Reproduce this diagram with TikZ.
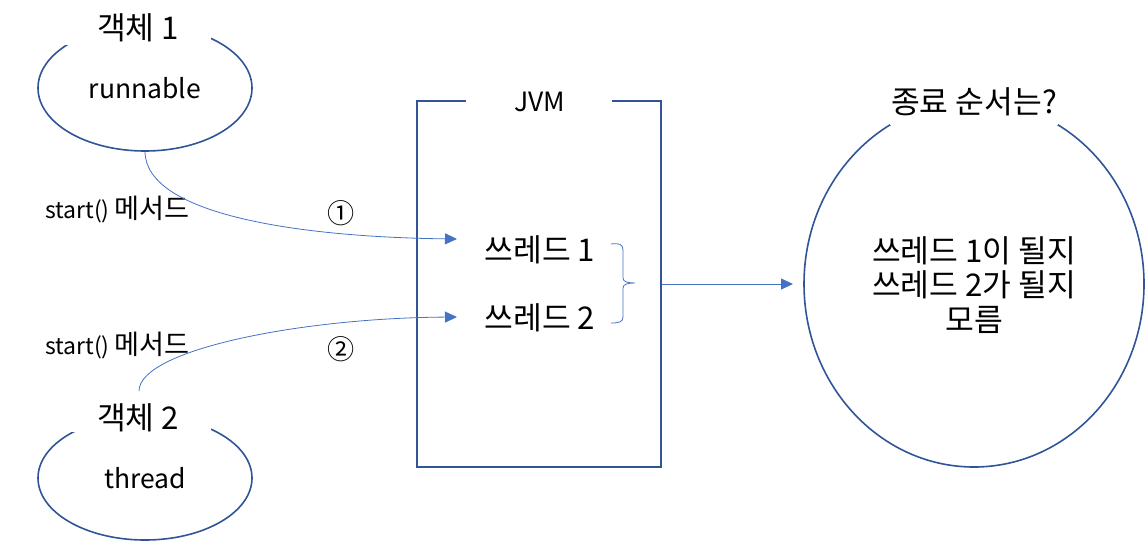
\documentclass[tikz,border=0pt]{standalone}
\usepackage{fontspec}
\setmainfont{Noto Sans CJK KR}
\newfontfamily\kr[Scale=1.18]{Noto Sans CJK KR}
\usetikzlibrary{shapes.geometric,arrows.meta}
\definecolor{outl}{HTML}{2F5597}
\definecolor{arr}{HTML}{4472C4}
\begin{document}
\begin{tikzpicture}[x=1pt,y=-1pt,
  shapeline/.style={draw=outl,line width=1.6pt},
  conn/.style={draw=arr,line width=0.8pt,-{Triangle[length=12pt,width=11pt]}},
  maintext/.style={font=\fontsize{26.5}{34.5}\selectfont,inner sep=0pt},
  smalltext/.style={font=\fontsize{23}{28}\selectfont,inner sep=0pt},
  cover/.style={fill=white,inner sep=0pt}]
\useasboundingbox (0,0) rectangle (1145,542);
% ellipses
\node[shapeline,ellipse,minimum width=214pt,minimum height=126pt,maintext] (e1) at (145,88) {runnable};
\node[shapeline,ellipse,minimum width=214pt,minimum height=124pt,maintext] (e2) at (145,478) {thread};
\node[cover,minimum width=146pt,minimum height=40pt] (c1) at (138,25) {};
\node[maintext] (l1) at (138,28) {\kr 객체 1};
\node[cover,minimum width=146pt,minimum height=36pt] (c2) at (138,414) {};
\node[maintext] (l2) at (138,418) {\kr 객체 2};
% JVM box
\node[shapeline,rectangle,minimum width=244pt,minimum height=366pt] (jvm) at (539,284) {};
\node[cover,minimum width=146pt,minimum height=10pt] (cj) at (539,101) {};
\node[maintext] (lj) at (540,102) {JVM};
% threads
\node[maintext] (t1) at (540,250) {\kr 쓰레드 1};
\node[maintext] (t2) at (540,318) {\kr 쓰레드 2};
% circle
\node[shapeline,ellipse,minimum width=340pt,minimum height=366pt] (res) at (974,284) {};
\node[cover,minimum width=168pt,minimum height=46pt] (cr) at (974,102) {};
\node[maintext] (lr) at (974,102) {\kr 종료 순서는?};
\node[maintext,align=center] (rt) at (974,285) {\kr 쓰레드 1이 될지\\\kr 쓰레드 2가 될지\\\kr 모름};
% labels
\node[smalltext,anchor=west] (s1) at (45,210) {start() {\kr 메서드}};
\node[smalltext,anchor=west] (s2) at (45,346) {start() {\kr 메서드}};
\node[smalltext] (n1) at (341,213) {\kr ①};
\node[smalltext] (n2) at (341,349) {\kr ②};
% connectors
\coordinate (a1) at (457,239);
\coordinate (a2) at (457,317);
\coordinate (st2) at (139,391);
\draw[conn] (e1.south) .. controls (146,215) and (300,237) .. (a1);
\draw[conn] (st2) .. controls (139,350) and (300,318) .. (a2);
% brace
\coordinate (b1) at (611,244);
\coordinate (b2) at (611,323);
\coordinate (btip) at (635,283);
\draw[draw=arr,line width=0.8pt] (b1) .. controls (619,243) and (623,244) .. (623,250)
  -- (623,278) .. controls (623,282) and (628,283) .. (btip)
  .. controls (628,283) and (623,284) .. (623,288)
  -- (623,317) .. controls (623,322) and (619,323) .. (b2);
\coordinate (a3) at (793,284);
\draw[conn] (jvm.east |- a3) -- (a3);
\end{tikzpicture}
\end{document}
